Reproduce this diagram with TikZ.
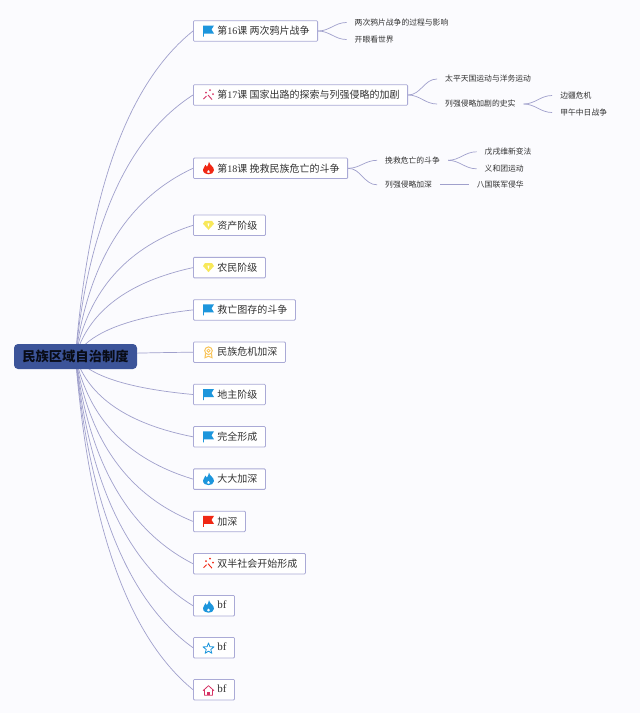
\documentclass[tikz,border=0pt]{standalone}
\usepackage{fontspec}
\setmainfont{Liberation Serif}
\newfontfamily\cjk{Noto Sans CJK SC}
\usepackage{xcolor}
\usetikzlibrary{arrows.meta, positioning, calc, backgrounds}
\definecolor{mybg}{RGB}{251,251,254}
\definecolor{myline}{RGB}{160,160,204}
\definecolor{myborder}{RGB}{170,170,214}
\definecolor{myroot}{RGB}{60,84,153}
\definecolor{mytext}{RGB}{50,50,50}
\definecolor{myblue}{RGB}{29,150,220}
\definecolor{myred}{RGB}{240,40,20}
\definecolor{myyellow}{RGB}{248,232,90}
\definecolor{myorange}{RGB}{248,196,90}
\definecolor{mypink}{RGB}{214,50,100}
\newcommand{\num}[1]{{\rmfamily #1}}
\newcommand{\bftext}{\raisebox{1.5pt}{\rmfamily\fontsize{11}{12}\selectfont bf}}
\tikzset{
    topic/.style={draw=myborder, fill=white, rounded corners=1pt, line width=0.8pt, minimum height=20.5pt, inner xsep=8pt, inner ysep=2pt, text=mytext, font=\fontsize{10}{12}\selectfont\cjk, execute at begin node={\hspace{16pt}}},
    leaf/.style={inner xsep=8pt, inner ysep=2pt, text=mytext, font=\fontsize{7.8}{9}\selectfont\cjk},
    branch/.style={draw=myline, line width=0.7pt},
    pics/flagicon/.style={code={
        \fill[#1] (-5.5,-5.5) -- (5.5,-5.5) -- (3,-1.5) -- (5.5,2.5) -- (-4.7,2.5) -- (-4.7,5.5) -- (-5.5,5.5) -- cycle;
    }},
    pics/flameicon/.style={code={
        \fill[#1, even odd rule] (0.5,-6.5) .. controls (1,-3) and (5.5,-2) .. (5.5,2) .. controls (5.5,4.8) and (2.5,6) .. (0,6) .. controls (-2.5,6) and (-5.5,4.8) .. (-5.5,1.5) .. controls (-5.5,-0.5) and (-3.5,-1.5) .. (-3,-3.5) .. controls (-2,-2.5) and (-2,-1.5) .. (-1.5,-1.5) .. controls (-0.5,-3) and (0,-4.5) .. (0.5,-6.5) -- cycle
            (0,1.5) .. controls (-0.8,2.5) and (-1.7,3) .. (-1.4,4.2) .. controls (-1,5) and (1,5) .. (1.4,4.2) .. controls (1.7,3) and (0.6,2.5) .. (0,1.5) -- cycle;
    }},
    pics/wandicon/.style={code={
        \draw[#1, line width=0.9pt] (-5,4) -- (-2,1) (-0.5,0) -- (3.5,4.5);
        \fill[#1] (-2.5,-2.5) circle (1) (1.5,-5) circle (1) (4.5,-1) circle (1);
    }},
    pics/gemicon/.style={code={
        \fill[#1] (-3.5,-4.5) -- (3.5,-4.5) -- (5.5,-1.5) -- (0,4.5) -- (-5.5,-1.5) -- cycle;
        \fill[white] (-1,-2) -- (1,-2) -- (0.3,1) -- (-0.3,1) -- cycle;
    }},
    pics/ribbonicon/.style={code={
        \draw[#1, line width=1pt] (0,-1.5) circle (3.8);
        \draw[#1, line width=0.8pt] (0,-1.5) circle (1.6);
        \draw[#1, line width=1pt] (-3,1.5) -- (-3.5,5.5) -- (0,4) -- (3.5,5.5) -- (3,1.5);
    }},
    pics/staricon/.style={code={
        \draw[#1, line width=0.8pt, line join=round] (-90:5.8) -- (-54:2.4) -- (-18:5.8) -- (18:2.4) -- (54:5.8) -- (90:2.4) -- (126:5.8) -- (162:2.4) -- (198:5.8) -- (234:2.4) -- cycle;
    }},
    pics/houseicon/.style={code={
        \draw[#1, line width=0.8pt, line join=round] (-5.5,0) -- (0,-5) -- (5.5,0) (-4,-1) -- (-4,4.5) -- (4,4.5) -- (4,-1);
        \fill[#1] (-1.5,4.5) -- (-1.5,1) -- (1.5,1) -- (1.5,4.5) -- cycle;
    }},
}

\begin{document}
\begin{tikzpicture}[x=1pt, y=-1pt]
    \begin{pgfonlayer}{background}
    \useasboundingbox[fill=mybg] (0,0) rectangle (640,713);
    \end{pgfonlayer}

    \node[topic, anchor=west] (t16) at (193,31) {第\num{16}课 两次鸦片战争};
    \node[topic, below=42.7pt of t16.south west, anchor=north west] (t17) {第\num{17}课 国家出路的探索与列强侵略的加剧};
    \node[topic, below=52pt of t17.south west, anchor=north west] (t18) {第\num{18}课 挽救民族危亡的斗争};
    \node[topic, below=35.7pt of t18.south west, anchor=north west] (zichan) {资产阶级};
    \node[topic, below=21pt of zichan.south west, anchor=north west] (nongmin) {农民阶级};
    \node[topic, below=21pt of nongmin.south west, anchor=north west] (jiuwang) {救亡图存的斗争};
    \node[topic, below=21pt of jiuwang.south west, anchor=north west] (weiji) {民族危机加深};
    \node[topic, below=21pt of weiji.south west, anchor=north west] (dizhu) {地主阶级};
    \node[topic, below=21pt of dizhu.south west, anchor=north west] (wanquan) {完全形成};
    \node[topic, below=21pt of wanquan.south west, anchor=north west] (dada) {大大加深};
    \node[topic, below=21pt of dada.south west, anchor=north west] (jiashen) {加深};
    \node[topic, below=21pt of jiashen.south west, anchor=north west] (shuangban) {双半社会开始形成};
    \node[topic, below=20.7pt of shuangban.south west, anchor=north west] (bfa) {\bftext};
    \node[topic, below=20.7pt of bfa.south west, anchor=north west] (bfb) {\bftext};
    \node[topic, below=20.7pt of bfb.south west, anchor=north west] (bfc) {\bftext};

    \node[fill=myroot, rounded corners=4pt, minimum width=123pt, minimum height=25pt, inner sep=0pt, text=black!85!myroot, font=\fontsize{13.3}{15}\selectfont\cjk\bfseries] (root) at (75.5,356.5) {民族区域自治制度};

    \node[leaf, right=28.5pt of t16.east, yshift=8.5pt] (guocheng) {两次鸦片战争的过程与影响};
    \node[leaf, right=28.5pt of t16.east, yshift=-8.5pt] (kaiyan) {开眼看世界};
    \node[leaf, right=29pt of t17.east, yshift=16pt] (taiping) {太平天国运动与洋务运动};
    \node[leaf, right=29pt of t17.east, yshift=-9pt] (shishi) {列强侵略加剧的史实};
    \node[leaf, right=28.5pt of shishi.east, yshift=8.5pt] (bianjiang) {边疆危机};
    \node[leaf, right=28.5pt of shishi.east, yshift=-8.5pt] (jiawu) {甲午中日战争};
    \node[leaf, right=29pt of t18.east, yshift=8pt] (wanjiu) {挽救危亡的斗争};
    \node[leaf, right=29pt of t18.east, yshift=-16.5pt] (jiakuai) {列强侵略加深};
    \node[leaf, right=28.5pt of wanjiu.east, yshift=8.5pt] (wuxu) {戊戌维新变法};
    \node[leaf, right=28.5pt of wanjiu.east, yshift=-8.5pt] (yihe) {义和团运动};
    \node[leaf, right=28.5pt of jiakuai.east] (baguo) {八国联军侵华};

    % root branches
    \begin{pgfonlayer}{background}
    \foreach \t in {t16,t17,t18,zichan,nongmin,jiuwang,weiji,dizhu,wanquan,dada,jiashen,shuangban,bfa,bfb,bfc}
        \draw[branch] (root.center) .. controls ($(root.center)!.507!(root.center |- \t.west)+(13,0)$) and ($(\t.west)!.16!(\t.west |- root.center)+(-65,0)$) .. (\t.west);
    \end{pgfonlayer}

    \foreach \a/\b in {t16/guocheng,t16/kaiyan,t17/taiping,t17/shishi,shishi/bianjiang,shishi/jiawu,t18/wanjiu,t18/jiakuai,wanjiu/wuxu,wanjiu/yihe}
        \draw[branch] (\a.east) to[out=0, in=180] (\b.west);
    \draw[branch] (jiakuai) -- (baguo);

    % icons
    \pic at ($(t16.west)+(15.5,0)$) {flagicon=myblue};
    \pic at ($(t17.west)+(15.5,0)$) {wandicon=mypink};
    \pic at ($(t18.west)+(15.5,0)$) {flameicon=myred};
    \pic at ($(zichan.west)+(15.5,0)$) {gemicon=myyellow};
    \pic at ($(nongmin.west)+(15.5,0)$) {gemicon=myyellow};
    \pic at ($(jiuwang.west)+(15.5,0)$) {flagicon=myblue};
    \pic at ($(weiji.west)+(15.5,0)$) {ribbonicon=myorange};
    \pic at ($(dizhu.west)+(15.5,0)$) {flagicon=myblue};
    \pic at ($(wanquan.west)+(15.5,0)$) {flagicon=myblue};
    \pic at ($(dada.west)+(15.5,0)$) {flameicon=myblue};
    \pic at ($(jiashen.west)+(15.5,0)$) {flagicon=myred};
    \pic at ($(shuangban.west)+(15.5,0)$) {wandicon=myred};
    \pic at ($(bfa.west)+(15.5,1)$) {flameicon=myblue};
    \pic at ($(bfb.west)+(15.5,1)$) {staricon=myblue};
    \pic at ($(bfc.west)+(15.5,1)$) {houseicon=mypink};
\end{tikzpicture}
\end{document}
